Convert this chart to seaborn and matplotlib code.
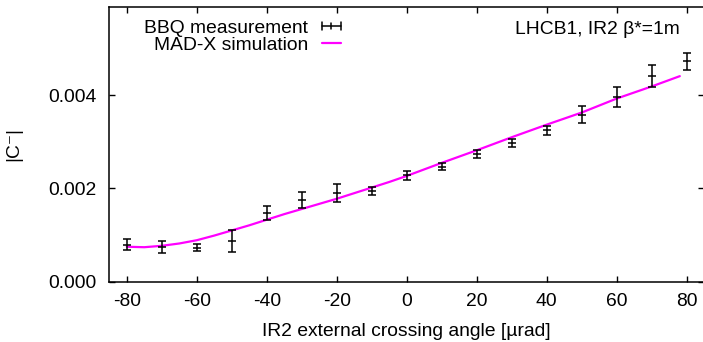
import matplotlib
matplotlib.use("Agg")
import matplotlib.pyplot as plt
from matplotlib.lines import Line2D
from matplotlib.legend_handler import HandlerBase
import seaborn as sns
import pandas as pd

# ---- data ----
angles = [-80, -70, -60, -50, -40, -30, -20, -10, 0, 10, 20, 30, 40, 50, 60, 70, 80]
c_meas = [0.00079, 0.00075, 0.00073, 0.00087, 0.00147, 0.00175, 0.00190, 0.00195,
          0.00228, 0.00247, 0.00274, 0.00298, 0.00325, 0.00358, 0.00396, 0.00441, 0.00473]
c_err = [0.00012, 0.00013, 0.00008, 0.00023, 0.00015, 0.00017, 0.00019, 0.00009,
         0.00010, 0.00008, 0.00009, 0.00009, 0.00010, 0.00018, 0.00021, 0.00024, 0.00018]

sim_angles = [-80, -75, -70, -65, -60, -55, -50, -45, -40, -35, -30, -25, -20, -15,
              -10, -5, 0, 10, 20, 30, 40, 50, 60, 70, 78]
c_sim = [0.00075, 0.00074, 0.00077, 0.00082, 0.00089, 0.00099, 0.00110, 0.00121,
         0.00133, 0.00145, 0.00156, 0.00167, 0.00178, 0.00190, 0.00202, 0.00214,
         0.00227, 0.00255, 0.00282, 0.00310, 0.00337, 0.00363, 0.00393, 0.00419, 0.00441]

x_ticks = [-80, -60, -40, -20, 0, 20, 40, 60, 80]
y_ticks = [0.000, 0.002, 0.004]

meas = pd.DataFrame({"angle": angles, "C": c_meas, "err": c_err})
sim = pd.DataFrame({"angle": sim_angles, "C": c_sim})

sns.set_style("ticks")
plt.rcParams["font.family"] = ["Liberation Sans", "DejaVu Sans"]
plt.rcParams["text.color"] = "black"
plt.rcParams["axes.labelcolor"] = "black"
FS = 13.9

W, H = 703, 342
fig = plt.figure(figsize=(W / 100, H / 100), dpi=100)
ax = fig.add_axes([109.3 / W, (H - 281.7) / H, 595.0 / W, 275.0 / H])

# simulation curve
sns.lineplot(data=sim, x="angle", y="C", ax=ax, color="#ff00ff", lw=1.6,
             legend=False, zorder=2)
# measurements with error bars
ax.errorbar(meas["angle"], meas["C"], yerr=meas["err"], fmt="none",
            ecolor="black", elinewidth=1.1, capsize=3, capthick=1.1, zorder=3)
sns.scatterplot(data=meas, x="angle", y="C", ax=ax, marker="_", s=30,
                color="black", linewidth=1.1, zorder=4, legend=False)

ax.set_xlim(-85, 85)
ax.set_ylim(0, 0.0059)
ax.set_xticks(x_ticks)
ax.set_xticklabels([str(v) for v in x_ticks])
ax.set_yticks(y_ticks)
ax.set_yticklabels([f"{v:.3f}" for v in y_ticks])

for s in ax.spines.values():
    s.set_visible(True)
    s.set_linewidth(1.1)
    s.set_color("black")
ax.tick_params(axis="both", direction="in", length=4.3, width=1.0,
               labelsize=FS, colors="black", labelcolor="black",
               top=True, right=True)
ax.tick_params(axis="y", pad=9)
ax.tick_params(axis="x", pad=8)

ax.set_xlabel("IR2 external crossing angle [µrad]", fontsize=FS, color="black")
ax.xaxis.label.set_va("center")
ax.xaxis.set_label_coords(0.5, (281.7 - 331) / 275.0)
ax.set_ylabel("|C⁻|", fontsize=FS, color="black")
ax.yaxis.label.set_va("center")
ax.yaxis.set_label_coords((14 - 109.3) / 595.0, 0.5)

fig.text(680 / W, 1 - 29 / H, "LHCB1, IR2 β*=1m", ha="right", va="center",
         fontsize=FS, color="black")


class ErrKeyHandler(HandlerBase):
    def create_artists(self, legend, orig_handle, xdescent, ydescent,
                       width, height, fontsize, trans):
        y = height / 2 - ydescent
        cap = 3.0
        x0, x1 = -xdescent, -xdescent + width
        arts = [
            Line2D([x0, x1], [y, y], color="black", lw=1.1),
            Line2D([x0, x0], [y - cap, y + cap], color="black", lw=1.1),
            Line2D([x1, x1], [y - cap, y + cap], color="black", lw=1.1),
            Line2D([(x0 + x1) / 2] * 2, [y - 2, y + 2], color="black", lw=1.1),
        ]
        for a in arts:
            a.set_transform(trans)
        return arts


err_handle = Line2D([], [], color="black", lw=1.1)
sim_handle = Line2D([], [], color="#ff00ff", lw=1.6)
fig.legend([err_handle, sim_handle], ["BBQ measurement", "MAD-X simulation"],
           loc="upper right", bbox_to_anchor=(341 / W, 1 - 19 / H),
           frameon=False, markerfirst=False, fontsize=FS,
           handlelength=1.0, handletextpad=0.7, labelspacing=0.0,
           borderpad=0, borderaxespad=0,
           handler_map={err_handle: ErrKeyHandler()})

fig.savefig("out.png", dpi=100)
